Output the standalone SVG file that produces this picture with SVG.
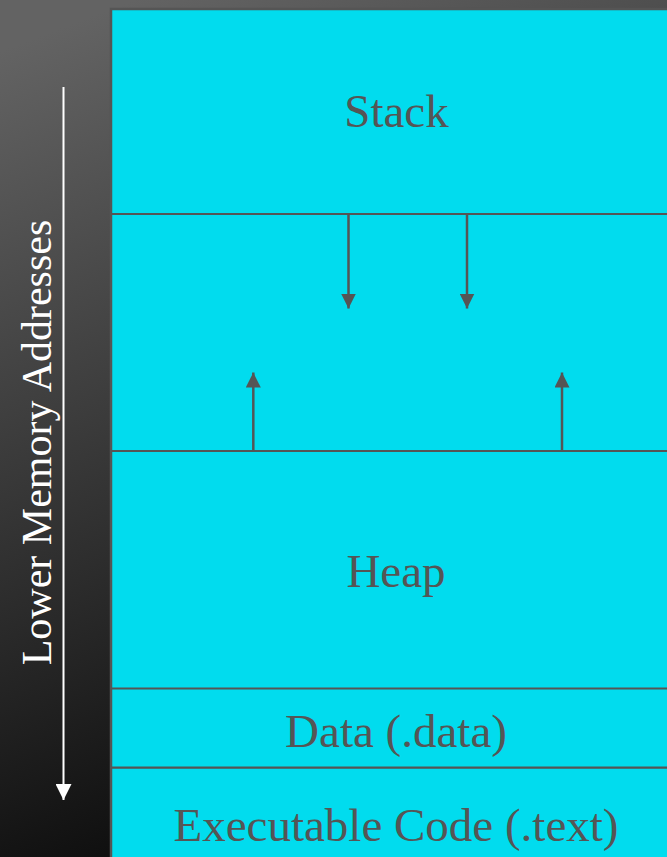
<svg xmlns="http://www.w3.org/2000/svg" width="667" height="857" viewBox="0 0 667 857">
<defs>
<linearGradient id="bg" x1="0.2" y1="0" x2="0.5" y2="1">
<stop offset="0" stop-color="#636363"/>
<stop offset="1" stop-color="#070707"/>
</linearGradient>
<marker id="ah" viewBox="0 0 15 15" refX="15" refY="7.5" markerWidth="15" markerHeight="15" markerUnits="userSpaceOnUse" orient="auto">
<path d="M0,0 L15,7.5 L0,15 Z" fill="#555555"/>
</marker>
<marker id="wh" viewBox="0 0 16 16" refX="16" refY="8" markerWidth="16" markerHeight="16" markerUnits="userSpaceOnUse" orient="auto">
<path d="M0,0 L16,8 L0,16 Z" fill="#ffffff"/>
</marker>
</defs>
<style>
.lbl{font-family:"Liberation Serif","Times New Roman",serif;font-size:47px;fill:#555555;text-anchor:middle}
.side{font-family:"Liberation Serif","Times New Roman",serif;font-size:42px;fill:#ffffff;text-anchor:middle}
.div{stroke:#555555;stroke-width:2.2;fill:none}
.arr{stroke:#555555;stroke-width:2.5;fill:none;marker-end:url(#ah)}
</style>
<rect x="0" y="0" width="667" height="857" fill="url(#bg)"/>
<g id="axis">
<line x1="63.5" y1="87" x2="63.5" y2="800" stroke="#ffffff" stroke-width="2" marker-end="url(#wh)"/>
<text class="side" transform="translate(51,442.5) rotate(-90)">Lower Memory Addresses</text>
</g>
<g id="memory">
<rect x="111" y="9" width="600" height="870" fill="#01dcee" stroke="#555555" stroke-width="2.5"/>
</g>
<g id="stack"><text class="lbl" x="396.5" y="127">Stack</text></g>
<g id="heap"><text class="lbl" x="396" y="587">Heap</text></g>
<g id="data"><text class="lbl" x="396" y="747">Data (.data)</text></g>
<g id="code"><text class="lbl" x="396" y="841">Executable Code (.text)</text></g>
<g id="dividers">
<line class="div" x1="111" y1="214" x2="667" y2="214"/>
<line class="div" x1="111" y1="451" x2="667" y2="451"/>
<line class="div" x1="111" y1="688.5" x2="667" y2="688.5"/>
<line class="div" x1="111" y1="767.7" x2="667" y2="767.7"/>
</g>
<g id="connectors">
<line class="arr" x1="348.5" y1="214" x2="348.5" y2="308.5"/>
<line class="arr" x1="467" y1="214" x2="467" y2="308.5"/>
<line class="arr" x1="253.3" y1="451" x2="253.3" y2="372.5"/>
<line class="arr" x1="562" y1="451" x2="562" y2="372.5"/>
</g>
</svg>
